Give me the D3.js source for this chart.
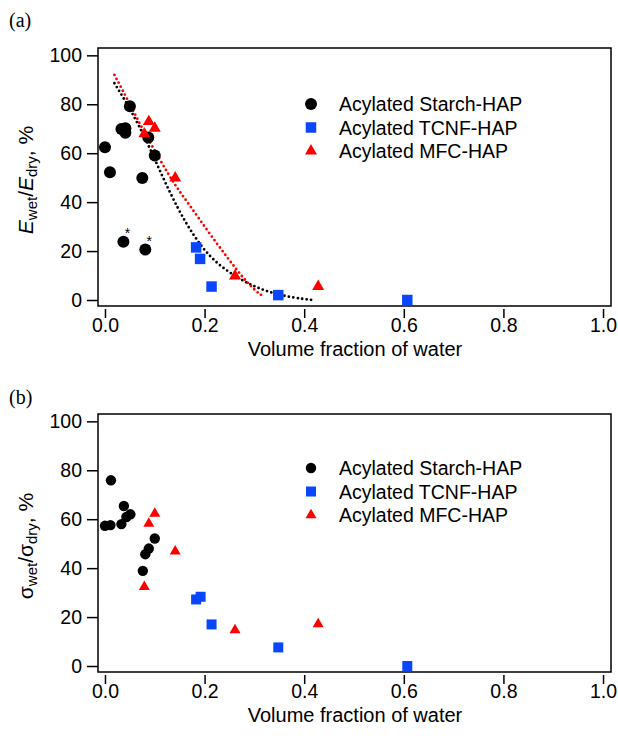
<!DOCTYPE html>
<html>
<head>
<meta charset="utf-8">
<script src="https://cdn.jsdelivr.net/npm/d3@7"></script>
<style>
  body { margin: 0; background: #fff; }
  text { font-family: "Liberation Sans", Arial, sans-serif; fill: #000; }
</style>
</head>
<body>
<div id="chart"></div>
<script>
// tick values
var xTicks = [0, 0.2, 0.4, 0.6, 0.8, 1.0];
var yTicks = [0, 20, 40, 60, 80, 100];
var seriesNames = ["Acylated Starch-HAP", "Acylated TCNF-HAP", "Acylated MFC-HAP"];

// (a) modulus ratio, [volume fraction of water, %]
var starchModulus = [[0.000, 62.4], [0.010, 52.2], [0.033, 69.9], [0.041, 70.2], [0.041, 68.4],
  [0.050, 79.2], [0.075, 49.9], [0.087, 66.4], [0.100, 59.1], [0.037, 23.8], [0.081, 20.6]];
var starchStarred = [0.037, 0.081];   // points marked with *
var tcnfModulus = [[0.183, 21.5], [0.191, 16.8], [0.214, 5.5], [0.348, 2.0], [0.607, 0.0]];
var mfcModulus = [[0.088, 72.9], [0.100, 70.2], [0.079, 67.9], [0.141, 49.9], [0.261, 9.8], [0.428, 5.5]];

// dotted trend lines
var starchFit = [[0.019, 88.6], [0.050, 78.4], [0.086, 64.1], [0.115, 50.5], [0.147, 37.0], [0.177, 26.5],
  [0.210, 17.6], [0.247, 11.5], [0.287, 6.6], [0.331, 3.0], [0.378, 0.9], [0.417, 0.0]];
var mfcFit = [[0.019, 92.0], [0.049, 80.5], [0.076, 69.5], [0.110, 57.5], [0.140, 47.0], [0.170, 38.8],
  [0.207, 27.9], [0.247, 17.0], [0.277, 9.0], [0.304, 3.4], [0.314, 2.0]];

// (b) strength ratio
var starchStrength = [[0.000, 57.3], [0.011, 57.6], [0.012, 75.9], [0.033, 58.0], [0.038, 65.4],
  [0.043, 60.9], [0.051, 62.0], [0.100, 52.1], [0.088, 48.0], [0.081, 45.7], [0.076, 38.9]];
var tcnfStrength = [[0.183, 27.2], [0.192, 28.3], [0.214, 17.0], [0.348, 7.6], [0.607, 0.0]];
var mfcStrength = [[0.100, 62.3], [0.088, 58.2], [0.079, 32.4], [0.141, 46.9], [0.261, 14.7], [0.428, 17.1]];

var width = 618, height = 736;
var blue = "#0a46ff", red = "#ff0000";

var svg = d3.select("#chart").append("svg")
    .attr("width", width)
    .attr("height", height);

function drawPanel(p) {
  var x = d3.scaleLinear().domain([-0.014, 1.016]).range([98, 611]);
  var y = d3.scaleLinear().domain([-2.45, 103]).range([p.bottom, p.top]);
  var g = svg.append("g");

  // frame
  g.append("rect")
    .attr("x", 98).attr("y", p.top)
    .attr("width", 611 - 98).attr("height", p.bottom - p.top)
    .attr("fill", "none").attr("stroke", "#000").attr("stroke-width", 1.5);

  var yAxis = g.append("g")
    .attr("transform", "translate(98,0)")
    .call(d3.axisLeft(y).tickValues(yTicks).tickSize(11).tickPadding(5).tickFormat(d3.format("d")));
  var xAxis = g.append("g")
    .attr("transform", "translate(0," + (p.bottom + 3) + ")")
    .call(d3.axisBottom(x).tickValues(xTicks).tickSize(9).tickPadding(0).tickFormat(d3.format(".1f")));
  [xAxis, yAxis].forEach(function(a) {
    a.select(".domain").remove();
    a.selectAll("line").attr("stroke", "#000").attr("stroke-width", 1.5);
    a.selectAll("text").style("font-size", "19.5px").style("font-family", "Liberation Sans, Arial, sans-serif");
  });

  // x title
  g.append("text")
    .attr("x", 355).attr("y", p.bottom + 50)
    .attr("text-anchor", "middle").style("font-size", "20px")
    .text("Volume fraction of water");

  // panel letter
  g.append("text")
    .attr("x", 9).attr("y", p.letterY)
    .style("font-family", "Liberation Serif, Times New Roman, serif").style("font-size", "20px")
    .text(p.letter);

  // y title
  var yt = g.append("text")
    .attr("transform", "translate(33," + ((p.top + p.bottom) / 2 + 3) + ") rotate(-90)")
    .attr("text-anchor", "middle").style("font-size", "21px");
  p.yTitle(yt);

  // trend lines
  var line = d3.line().x(function(d) { return x(d[0]); }).y(function(d) { return y(d[1]); })
    .curve(d3.curveBasis);
  (p.fits || []).forEach(function(f) {
    g.append("path")
      .datum(f.data)
      .attr("d", line)
      .attr("fill", "none")
      .attr("stroke", f.color)
      .attr("stroke-width", 2.8)
      .attr("stroke-linecap", "round")
      .attr("stroke-dasharray", "0 4.5");
  });

  var shapes = [
    { data: p.starch, type: d3.symbolCircle, size: Math.PI * p.r * p.r, color: "#000" },
    { data: p.tcnf, type: d3.symbolSquare, size: p.sq * p.sq, color: blue },
    { data: p.mfc, type: d3.symbolTriangle, size: Math.sqrt(3) / 4 * p.tri * p.tri, color: red }
  ];
  shapes.forEach(function(s) {
    g.selectAll(null)
      .data(s.data)
      .enter().append("path")
      .attr("transform", function(d) { return "translate(" + x(d[0]) + "," + y(d[1]) + ")"; })
      .attr("d", d3.symbol().type(s.type).size(s.size))
      .attr("fill", s.color);
  });

  // asterisks
  if (p.starred) {
    g.selectAll(null)
      .data(p.starch.filter(function(d) { return p.starred.indexOf(d[0]) >= 0 && d[1] < 30; }))
      .enter().append("text")
      .attr("x", function(d) { return x(d[0]) + 4; })
      .attr("y", function(d) { return y(d[1]) - 4; })
      .attr("text-anchor", "middle")
      .style("font-size", "14px")
      .text("*");
  }

  // legend
  seriesNames.forEach(function(name, i) {
    var cy = p.legendTop + i * 23.5;
    g.append("path")
      .attr("transform", "translate(311," + cy + ")")
      .attr("d", d3.symbol().type(shapes[i].type).size(shapes[i].size))
      .attr("fill", shapes[i].color);
    g.append("text")
      .attr("x", 339).attr("y", cy + 7)
      .style("font-size", "19.5px")
      .text(name);
  });
}

drawPanel({
  top: 48, bottom: 306, letter: "(a)", letterY: 27, legendTop: 104,
  r: 6, sq: 10.5, tri: 12,
  starch: starchModulus, tcnf: tcnfModulus, mfc: mfcModulus, starred: starchStarred,
  fits: [{ data: starchFit, color: "#000" }, { data: mfcFit, color: red }],
  yTitle: function(t) {
    t.append("tspan").style("font-style", "italic").text("E");
    t.append("tspan").attr("baseline-shift", "-25%").style("font-size", "15px").text("wet");
    t.append("tspan").text("/");
    t.append("tspan").style("font-style", "italic").text("E");
    t.append("tspan").attr("baseline-shift", "-25%").style("font-size", "15px").text("dry");
    t.append("tspan").text(", %");
  }
});

drawPanel({
  top: 414, bottom: 672, letter: "(b)", letterY: 404, legendTop: 468,
  r: 5.2, sq: 10, tri: 11,
  starch: starchStrength, tcnf: tcnfStrength, mfc: mfcStrength,
  yTitle: function(t) {
    t.append("tspan").text("σ");
    t.append("tspan").attr("baseline-shift", "-25%").style("font-size", "15px").text("wet");
    t.append("tspan").text("/σ");
    t.append("tspan").attr("baseline-shift", "-25%").style("font-size", "15px").text("dry");
    t.append("tspan").text(", %");
  }
});
</script>
</body>
</html>
